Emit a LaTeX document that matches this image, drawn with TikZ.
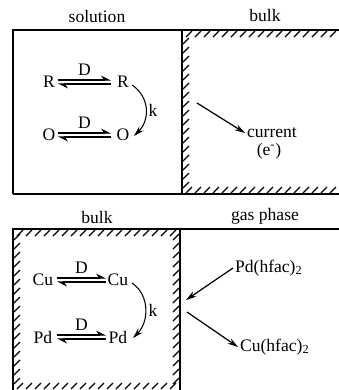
\documentclass[tikz,border=0pt]{standalone}
\usepackage{fontspec}
\setmainfont{Liberation Serif}
\usetikzlibrary{arrows.meta,calc}
\tikzset{
  wall/.style={line width=1.1pt},
  hatch/.style={line width=0.7pt},
  harp/.style={line width=0.6pt, -{Stealth[left,length=5pt,width=5pt]}},
  flow/.style={line width=0.7pt, -{Stealth[length=6pt,width=3.5pt]}},
  lbl/.style={font=\fontsize{10}{11}\selectfont, inner sep=1pt},
}

\begin{document}
\begin{tikzpicture}[x=0.02cm, y=-0.02cm]
\useasboundingbox (0,0) rectangle (339,390);

% solution / bulk
\draw[wall] (13,194) -- (13,30) -- (339,30);
\draw[wall] (182,30) -- (182,194);
\draw[wall] (13,194) -- (339,194);
\foreach \x in {186,195,...,336} \draw[hatch] (\x,37) -- (\x+6,31);
\foreach \y in {44,53,...,188} \draw[hatch] (183,\y) -- (189,\y-6);
\foreach \x in {186,195,...,336} \draw[hatch] (\x,193) -- (\x+6,187);

\node[lbl] (sol) at (97,16) {solution};
\node[lbl] (bulkA) at (265,15) {bulk};

\node[lbl] (r1) at (49,82) {R};
\node[lbl] (r2) at (123,82) {R};
\node[lbl] (o1) at (49,135) {O};
\node[lbl] (o2) at (123,135) {O};
\draw[harp] ($(r1)+(9,-2)$) -- node[lbl, above=1pt] (dr) {D} ($(r2)+(-12,-2)$);
\draw[harp] ($(r2)+(-12,2)$) -- ($(r1)+(9,2)$);
\draw[harp] ($(o1)+(9,-2)$) -- node[lbl, above=1pt] (do) {D} ($(o2)+(-12,-2)$);
\draw[harp] ($(o2)+(-12,2)$) -- ($(o1)+(9,2)$);
\draw[flow, line width=0.6pt] ($(r2)+(9,3)$) .. controls +(18,12) and +(16,-16) .. ($(o2)+(11,1)$);
\node[lbl] (kA) at (153,110) {k};

\coordinate (cstart) at (197,103);
\node[lbl, anchor=west] (cur) at (245,133) {current};
\node[lbl] (elec) at (269,151) {(e\textsuperscript{-})};
\draw[flow] (cstart) -- (cur.west);

% bulk / gas phase
\draw[wall] (13,390) -- (13,229) -- (339,229);
\draw[wall] (180,229) -- (180,390);
\foreach \y in {240,249,...,386} \draw[hatch] (14,\y) -- (20,\y-6);
\foreach \x in {17,26,...,170} \draw[hatch] (\x,236) -- (\x+6,230);
\foreach \y in {240,249,...,386} \draw[hatch] (173,\y) -- (179,\y-6);
\foreach \x in {17,26,...,170} \draw[hatch] (\x,389) -- (\x+6,383);

\node[lbl] (bulkB) at (97,217) {bulk};
\node[lbl] (gas) at (265,216) {gas phase};

\node[lbl] (c1) at (43,280) {Cu};
\node[lbl] (c2) at (118,280) {Cu};
\node[lbl] (p1) at (43,337) {Pd};
\node[lbl] (p2) at (118,337) {Pd};
\draw[harp] ($(c1)+(14,-2)$) -- node[lbl, above=1pt] (dc) {D} ($(c2)+(-12,-2)$);
\draw[harp] ($(c2)+(-12,2)$) -- ($(c1)+(14,2)$);
\draw[harp] ($(p1)+(14,-2)$) -- node[lbl, above=1pt] (dp) {D} ($(p2)+(-12,-2)$);
\draw[harp] ($(p2)+(-12,2)$) -- ($(p1)+(14,2)$);
\draw[flow, line width=0.6pt] ($(c2)+(14,3)$) .. controls +(18,12) and +(16,-16) .. ($(p2)+(15,1)$);
\node[lbl] (kB) at (153,310) {k};

\node[lbl, anchor=west] (pdg) at (233,268) {Pd(hfac)\textsubscript{2}};
\node[lbl, anchor=west] (cug) at (238,347) {Cu(hfac)\textsubscript{2}};
\coordinate (pin) at (186,300);
\coordinate (cout) at (187,312);
\draw[flow] (pdg.west) -- (pin);
\draw[flow] (cout) -- (cug.west);
\end{tikzpicture}
\end{document}
